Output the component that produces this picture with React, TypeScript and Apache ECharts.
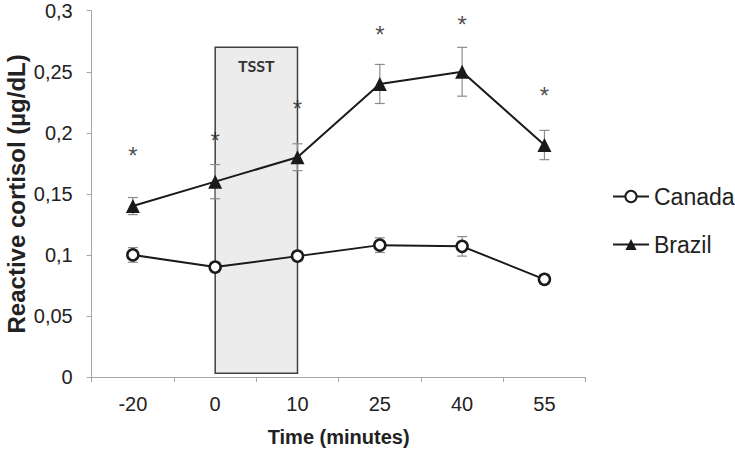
import React, { useEffect, useRef } from "react";
import * as echarts from "echarts";

const categories = ["-20", "0", "10", "25", "40", "55"];
const canada = [0.1, 0.09, 0.099, 0.108, 0.107, 0.08];
const canadaErr = [0.006, 0.004, 0.004, 0.006, 0.008, 0.004];
const brazil = [0.14, 0.16, 0.18, 0.24, 0.25, 0.19];
const brazilErr = [0.007, 0.014, 0.011, 0.016, 0.02, 0.012];
const starY = [0.1856, 0.198, 0.224, 0.2845, 0.293, 0.235];
const tsstStart = "0";
const tsstEnd = "10";
const tsstTop = 0.27;

const FONT = "'Liberation Sans', Arial, sans-serif";

function errSeries(name: string, vals: number[], errs: number[]) {
  return {
    type: "custom",
    name: name + "_err",
    z: 1,
    data: vals.map((v, i) => [i, v - errs[i], v + errs[i]]),
    renderItem: (params: any, api: any) => {
      const x = api.value(0);
      const lo = api.coord([x, api.value(1)]);
      const hi = api.coord([x, api.value(2)]);
      const w = 5;
      const style = { stroke: "#8c8c8c", lineWidth: 1.2 };
      return {
        type: "group",
        children: [
          { type: "line", shape: { x1: lo[0], y1: lo[1], x2: hi[0], y2: hi[1] }, style },
          { type: "line", shape: { x1: lo[0] - w, y1: lo[1], x2: lo[0] + w, y2: lo[1] }, style },
          { type: "line", shape: { x1: hi[0] - w, y1: hi[1], x2: hi[0] + w, y2: hi[1] }, style },
        ],
      };
    },
    silent: true,
  };
}

export default function App() {
  const ref = useRef<HTMLDivElement>(null);
  useEffect(() => {
    const chart = echarts.init(ref.current!, null, { renderer: "svg" });
    chart.setOption({
      animation: false,
      grid: {
        left: 91.7,
        right: 149.4,
        top: 10.7,
        bottom: 74,
        containLabel: false,
        outerBoundsMode: "none",
      },
      legend: {
        orient: "vertical",
        left: 607,
        top: 180,
        itemGap: 25,
        itemWidth: 36,
        itemHeight: 14,
        data: ["Canada", "Brazil"],
        textStyle: { fontFamily: FONT, fontSize: 23, color: "#222" },
      },
      xAxis: {
        type: "category",
        data: categories,
        boundaryGap: true,
        name: "Time (minutes)",
        nameLocation: "middle",
        nameGap: 50,
        nameMoveOverlap: false,
        nameTextStyle: { fontFamily: FONT, fontSize: 20, fontWeight: "bold", color: "#222" },
        axisLine: { lineStyle: { color: "#a6a6a6", width: 1 } },
        axisTick: { show: true, length: 5, lineStyle: { color: "#a6a6a6" } },
        axisLabel: { fontFamily: FONT, fontSize: 20, color: "#222", margin: 17 },
      },
      yAxis: {
        type: "value",
        min: 0,
        max: 0.3,
        interval: 0.05,
        name: "Reactive cortisol (µg/dL)",
        nameLocation: "middle",
        nameGap: 63,
        nameMoveOverlap: false,
        nameTextStyle: { fontFamily: FONT, fontSize: 24, fontWeight: "bold", color: "#222" },
        axisLine: { show: true, lineStyle: { color: "#a6a6a6", width: 1 } },
        axisTick: { show: true, length: 5, lineStyle: { color: "#a6a6a6" } },
        splitLine: { show: false },
        axisLabel: {
          fontFamily: FONT,
          fontSize: 20,
          color: "#222",
          margin: 19,
          formatter: (v: number) => String(parseFloat(v.toFixed(2))).replace(".", ","),
        },
      },
      series: [
        {
          type: "line",
          name: "TSST",
          data: [],
          z: 0,
          markArea: {
            silent: true,
            itemStyle: { color: "#ececec", borderColor: "#404040", borderWidth: 1.5 },
            label: {
              show: true,
              position: "insideTop",
              distance: 11,
              formatter: "TSST",
              fontFamily: "Lato, 'Open Sans', sans-serif",
              fontWeight: "bold",
              fontSize: 16,
              color: "#333",
            },
            data: [[{ xAxis: tsstStart, yAxis: 0.003 }, { xAxis: tsstEnd, yAxis: tsstTop }]],
          },
        },
        errSeries("Canada", canada, canadaErr),
        errSeries("Brazil", brazil, brazilErr),
        {
          type: "line",
          name: "Canada",
          data: canada,
          z: 3,
          symbol: "circle",
          symbolSize: 11,
          lineStyle: { color: "#1a1a1a", width: 2 },
          itemStyle: { color: "#fff", borderColor: "#1a1a1a", borderWidth: 2.5 },
        },
        {
          type: "line",
          name: "Brazil",
          data: brazil,
          z: 3,
          symbol: "triangle",
          symbolSize: 14,
          lineStyle: { color: "#1a1a1a", width: 2 },
          itemStyle: { color: "#1a1a1a" },
        },
        {
          type: "scatter",
          name: "stars",
          data: starY,
          symbolSize: 0,
          silent: true,
          label: {
            show: true,
            position: "inside",
            formatter: "*",
            fontFamily: FONT,
            fontSize: 24,
            color: "#222",
            offset: [0, 5],
          },
        },
      ],
    });
    return () => chart.dispose();
  }, []);
  return <div ref={ref} style={{ width: 735, height: 451, position: "absolute", left: 0, top: 0 }} />;
}
